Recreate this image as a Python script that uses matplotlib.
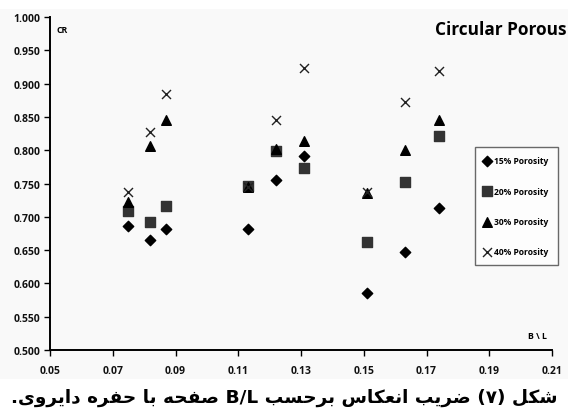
import matplotlib
matplotlib.use("Agg")
import matplotlib.pyplot as plt
from matplotlib.patches import Rectangle

# data
bl = [0.075, 0.082, 0.087, 0.113, 0.122, 0.131, 0.151, 0.163, 0.174]
p15 = [0.686, 0.666, 0.682, 0.682, 0.756, 0.791, 0.585, 0.648, 0.714]
p20 = [0.709, 0.693, 0.717, 0.746, 0.799, 0.774, 0.663, 0.752, 0.821]
p30 = [0.722, 0.807, 0.846, 0.745, 0.802, 0.814, 0.736, 0.801, 0.845]
p40 = [0.737, 0.828, 0.884, 0.745, 0.846, 0.924, 0.738, 0.872, 0.919]
labels = ["15% Porosity", "20% Porosity", "30% Porosity", "40% Porosity"]
xticks = [0.05, 0.07, 0.09, 0.11, 0.13, 0.15, 0.17, 0.19, 0.21]
caption = "شکل (۷) ضریب انعکاس برحسب B/L صفحه با حفره دایروی."

# simple arabic shaping (no reshaper lib in sandbox)
# letter: (isolated, final, initial, medial) ; 2-tuple = joins only to the right
FORMS = {
    "ش": (0xFEB5, 0xFEB6, 0xFEB7, 0xFEB8), "ک": (0xFB8E, 0xFB8F, 0xFB90, 0xFB91),
    "ل": (0xFEDD, 0xFEDE, 0xFEDF, 0xFEE0), "ض": (0xFEBD, 0xFEBE, 0xFEBF, 0xFEC0),
    "ی": (0xFBFC, 0xFBFD, 0xFBFE, 0xFBFF), "ب": (0xFE8F, 0xFE90, 0xFE91, 0xFE92),
    "ن": (0xFEE5, 0xFEE6, 0xFEE7, 0xFEE8), "ع": (0xFEC9, 0xFECA, 0xFECB, 0xFECC),
    "س": (0xFEB1, 0xFEB2, 0xFEB3, 0xFEB4), "ح": (0xFEA1, 0xFEA2, 0xFEA3, 0xFEA4),
    "ص": (0xFEB9, 0xFEBA, 0xFEBB, 0xFEBC), "ف": (0xFED1, 0xFED2, 0xFED3, 0xFED4),
    "ه": (0xFEE9, 0xFEEA, 0xFEEB, 0xFEEC),
    "ر": (0xFEAD, 0xFEAE), "ا": (0xFE8D, 0xFE8E), "د": (0xFEA9, 0xFEAA), "و": (0xFEED, 0xFEEE),
}


def shape(text):
    out = []
    for i, ch in enumerate(text):
        f = FORMS.get(ch)
        if f is None:
            out.append(ch)
            continue
        prev = text[i - 1] if i > 0 else ""
        nxt = text[i + 1] if i + 1 < len(text) else ""
        jp = prev in FORMS and len(FORMS[prev]) == 4
        jn = len(f) == 4 and nxt in FORMS
        if jp and jn:
            c = f[3]
        elif jp:
            c = f[1]
        elif jn:
            c = f[2]
        else:
            c = f[0]
        out.append(chr(c))
    return "".join(out)


def visual(text):
    s = shape(text)[::-1]
    s = s.replace("L/B", "B/L")
    s = s.replace("(", "\0").replace(")", "(").replace("\0", ")")
    return s


fig = plt.figure(figsize=(5.68, 4.14), dpi=100)
fig.patches.append(Rectangle((0, 0.082), 1, 0.894, transform=fig.transFigure,
                             facecolor="#f9f9f9", edgecolor="none", zorder=-5))
ax = fig.add_axes([0.088, 0.152, 0.884, 0.8043])
ax.set_facecolor("none")
ax.set_zorder(2)

ax.scatter(bl, p15, marker="D", s=28, color="black", label=labels[0], zorder=3)
ax.scatter(bl, p20, marker="s", s=46, color="#333333", label=labels[1], zorder=3)
ax.scatter(bl, p30, marker="^", s=48, color="black", label=labels[2], zorder=3)
ax.scatter(bl, p40, marker="x", s=42, color="#222222", linewidths=1.0, label=labels[3], zorder=4)

ax.set_xlim(0.05, 0.21)
ax.set_ylim(0.5, 1.0)
ax.set_xticks(xticks)
ax.set_xticklabels(["%.2f" % t for t in xticks])
yt = [0.5 + 0.05 * i for i in range(11)]
ax.set_yticks(yt)
ax.set_yticklabels(["%.3f" % t for t in yt])
for s in ["top", "right"]:
    ax.spines[s].set_visible(False)
for s in ["left", "bottom"]:
    ax.spines[s].set_linewidth(1.4)
ax.tick_params(length=4, width=1, direction="out", pad=7)
ax.tick_params(axis="y", pad=3)
for lab in ax.get_xticklabels() + ax.get_yticklabels():
    lab.set_family("Open Sans")
    lab.set_weight("bold")
    lab.set_fontsize(7.5)
    lab.set_color("#111111")

ax.text(0.012, 0.975, "CR", transform=ax.transAxes, family="Open Sans", weight="bold",
        fontsize=6.3, va="top", ha="left")
ax.text(0.97, 0.03, "B \\ L", transform=ax.transAxes, family="Open Sans", weight="bold",
        fontsize=6.3, va="bottom", ha="center")
fig.text(0.997, 0.928, "Circular Porous", family="Open Sans", weight="bold", fontsize=12.4,
         ha="right", va="center")

leg = ax.legend(loc="upper left", bbox_to_anchor=(0.8455, 0.6095), frameon=True, fancybox=False,
                prop={"family": "Open Sans", "weight": "bold", "size": 6.1},
                labelspacing=2.5, handletextpad=0.45, handlelength=0.8,
                borderpad=1.1, borderaxespad=0)
leg.get_frame().set_edgecolor("#444444")
leg.get_frame().set_linewidth(1.0)
leg.get_frame().set_facecolor("white")

fig.text(0.5, 0.04, visual(caption), family="DejaVu Sans", weight="bold", fontsize=13.3,
         ha="center", va="center")

fig.savefig("out.png", dpi=100)
